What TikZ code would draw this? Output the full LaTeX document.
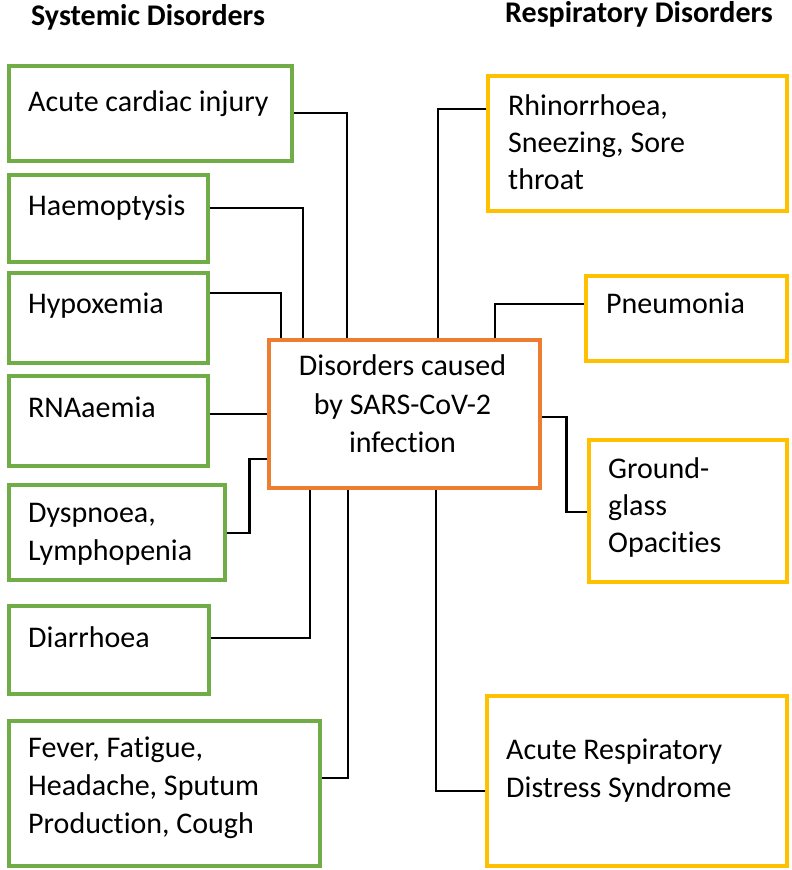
\documentclass[tikz,border=0pt]{standalone}
\usepackage{fontspec}
\setmainfont[Ligatures=NoCommon]{Carlito}
\usetikzlibrary{calc}
\definecolor{boxgreen}{HTML}{70AD47}
\definecolor{boxorange}{HTML}{ED7D31}
\definecolor{boxyellow}{HTML}{FFC000}
\tikzset{
  sbox/.style={draw=boxgreen, line width=3.5pt, anchor=north west, inner sep=0pt},
  rbox/.style={draw=boxyellow, line width=3.5pt, anchor=north west, inner sep=0pt},
  cbox/.style={draw=boxorange, line width=3.5pt, anchor=north west, inner sep=0pt},
  txt/.style={anchor=base west, inner sep=0pt, font=\fontsize{30}{37}\selectfont},
  ctxt/.style={anchor=base, inner sep=0pt, font=\fontsize{30}{37}\selectfont},
  ttl/.style={anchor=base west, inner sep=0pt, font=\fontsize{30}{37}\selectfont\bfseries},
  conn/.style={draw=black, line width=2.2pt}
}
\begin{document}
\begin{tikzpicture}[x=1pt,y=-1pt]
\useasboundingbox[fill=white] (0,0) rectangle (792,870);

% titles
\node[ttl] (t1) at (31,25) {Systemic Disorders};
\node[ttl] (t2) at (505,23) {Respiratory Disorders};

% left boxes
\node[sbox, minimum width=283pt, minimum height=95pt] (acute) at (7,64) {};
\node[sbox, minimum width=199pt, minimum height=87pt] (haem) at (7,173) {};
\node[sbox, minimum width=199pt, minimum height=90pt] (hypox) at (7,271) {};
\node[sbox, minimum width=199pt, minimum height=90pt] (rna) at (7,374) {};
\node[sbox, minimum width=216pt, minimum height=95pt] (dysp) at (7,483) {};
\node[sbox, minimum width=200pt, minimum height=88pt] (diar) at (7,604) {};
\node[sbox, minimum width=311pt, minimum height=145pt] (fever) at (7,719) {};

% center
\node[cbox, minimum width=271pt, minimum height=148pt] (center) at (267,338) {};

% right boxes
\node[rbox, minimum width=299pt, minimum height=135pt] (rhino) at (486,74) {};
\node[rbox, minimum width=201pt, minimum height=85pt] (pneu) at (584,274) {};
\node[rbox, minimum width=198pt, minimum height=142pt] (ggo) at (587,438) {};
\node[rbox, minimum width=300pt, minimum height=170pt] (ards) at (485,694) {};

% texts
\node[txt] (l1) at (28,111) {Acute cardiac injury};
\node[txt] (l2) at (28,215) {Haemoptysis};
\node[txt] (l3) at (28,313) {Hypoxemia};
\node[txt] (l4) at (28,417) {RNAaemia};
\node[txt] (l5a) at (28,522) {Dyspnoea,};
\node[txt] (l5b) at (28,560) {Lymphopenia};
\node[txt] (l6) at (28,647) {Diarrhoea};
\node[txt] (l7a) at (28,757) {Fever, Fatigue,};
\node[txt] (l7b) at (28,795) {Headache, Sputum};
\node[txt] (l7c) at (28,833) {Production, Cough};

\node[ctxt] (c1) at (402.5,375) {Disorders caused};
\node[ctxt] (c2) at (402.5,414) {by SARS-CoV-2};
\node[ctxt] (c3) at (402.5,452) {infection};

\node[txt] (r1a) at (508,115) {Rhinorrhoea,};
\node[txt] (r1b) at (508,152) {Sneezing, Sore};
\node[txt] (r1c) at (508,189) {throat};
\node[txt] (r2) at (606,313) {Pneumonia};
\node[txt] (r3a) at (608,478) {Ground-};
\node[txt] (r3b) at (608,515) {glass};
\node[txt] (r3c) at (608,552) {Opacities};
\node[txt] (r4a) at (506,759) {Acute Respiratory};
\node[txt] (r4b) at (506,797) {Distress Syndrome};

% connectors
\draw[conn] ($(acute.north east)+(0,49)$) -| ($(center.north west)+(80,0)$);
\draw[conn] ($(haem.north east)+(0,35)$) -| ($(center.north west)+(36,0)$);
\draw[conn] ($(hypox.north east)+(0,22)$) -| ($(center.north west)+(14,0)$);
\draw[conn] (rna.east |- center.west) -- (center.west);
\draw[conn] ($(dysp.north east)+(0,50)$) -- ++(23,0) |- ($(center.north west)+(0,121)$);
\draw[conn] ($(diar.north east)+(0,34)$) -| ($(center.south west)+(43,0)$);
\draw[conn] ($(fever.north east)+(0,59)$) -| ($(center.south west)+(81,0)$);
\draw[conn] ($(rhino.north west)+(0,35)$) -| ($(center.north west)+(171,0)$);
\draw[conn] ($(pneu.north west)+(0,30)$) -| ($(center.north west)+(228,0)$);
\draw[conn] ($(center.north east)+(0,79)$) -- ++(25,0) |- ($(ggo.north west)+(0,74)$);
\draw[conn] ($(ards.north west)+(0,97)$) -| ($(center.south west)+(169,0)$);
\end{tikzpicture}
\end{document}
